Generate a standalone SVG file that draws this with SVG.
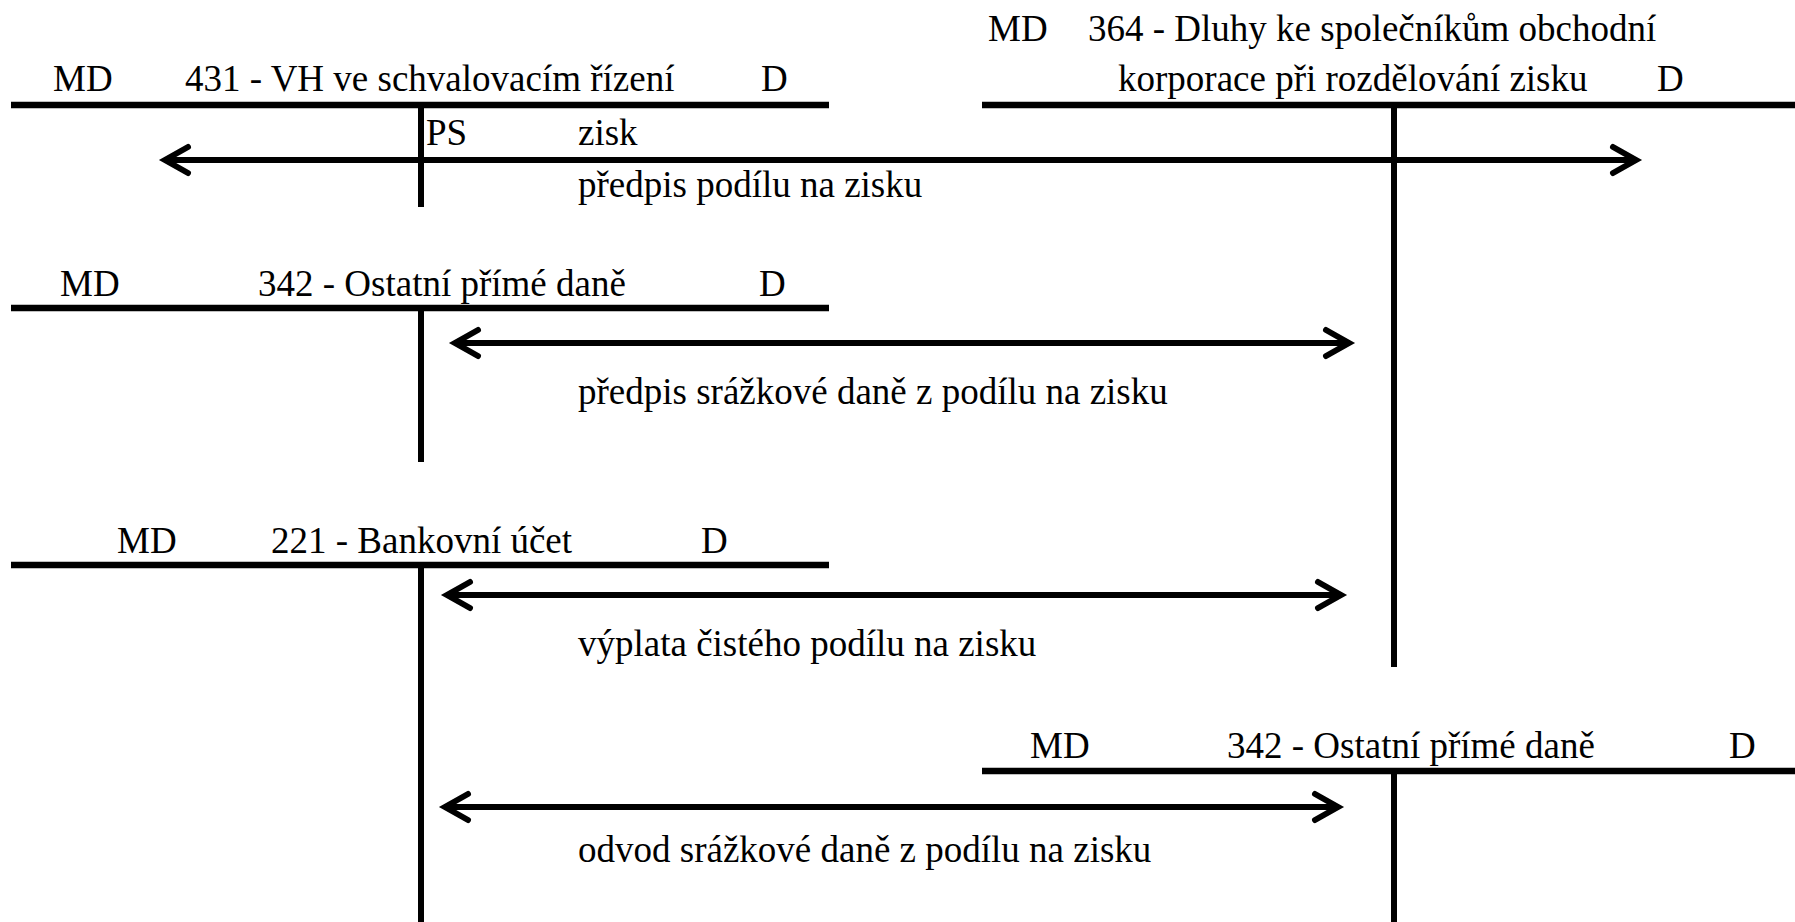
<svg xmlns="http://www.w3.org/2000/svg" width="1795" height="922" viewBox="0 0 1795 922">
<style>
text{font-family:'Liberation Serif','Times New Roman','DejaVu Serif',serif;font-size:37px;fill:#000}
.h{stroke:#000;stroke-width:6.5;fill:none}
.v{stroke:#000;stroke-width:6;fill:none}
.a{stroke:#000;stroke-width:6;fill:none}
.hd{stroke:#000;stroke-width:6;fill:none;stroke-linecap:round;stroke-linejoin:miter}
</style>
<rect width="1795" height="922" fill="#fff"/>
<g font-family="Liberation Serif, serif">
<g id="acc431">
<line class="h" x1="11" y1="105" x2="829" y2="105"/>
<line class="v" x1="421" y1="105" x2="421" y2="207"/>
<text x="53" y="91">MD</text>
<text x="185" y="91">431 - VH ve schvalovacím řízení</text>
<text x="761" y="91">D</text>
<text x="426" y="145">PS</text>
<text x="578" y="145">zisk</text>
</g>
<g id="acc364">
<line class="h" x1="982" y1="105" x2="1795" y2="105"/>
<line class="v" x1="1394" y1="105" x2="1394" y2="667"/>
<text x="988" y="41">MD</text>
<text x="1088" y="41">364 - Dluhy ke společníkům obchodní</text>
<text x="1118" y="91">korporace při rozdělování zisku</text>
<text x="1657" y="91">D</text>
</g>
<g id="acc342a">
<line class="h" x1="11" y1="308" x2="829" y2="308"/>
<line class="v" x1="421" y1="308" x2="421" y2="462"/>
<text x="60" y="296">MD</text>
<text x="258" y="296">342 - Ostatní přímé daně</text>
<text x="759" y="296">D</text>
</g>
<g id="acc221">
<line class="h" x1="11" y1="565" x2="829" y2="565"/>
<line class="v" x1="421" y1="565" x2="421" y2="922"/>
<text x="117" y="553">MD</text>
<text x="271" y="553">221 - Bankovní účet</text>
<text x="701" y="553">D</text>
</g>
<g id="acc342b">
<line class="h" x1="982" y1="771" x2="1795" y2="771"/>
<line class="v" x1="1394" y1="771" x2="1394" y2="922"/>
<text x="1030" y="758">MD</text>
<text x="1227" y="758">342 - Ostatní přímé daně</text>
<text x="1729" y="758">D</text>
</g>
<g id="connectors">
<line class="a" x1="166" y1="160" x2="1635" y2="160"/>
<polyline class="hd" points="188,147 165,160 188,173"/>
<polyline class="hd" points="1613,147 1636,160 1613,173"/>
<text x="578" y="197">předpis podílu na zisku</text>

<line class="a" x1="456" y1="343" x2="1348" y2="343"/>
<polyline class="hd" points="478,330 455,343 478,356"/>
<polyline class="hd" points="1326,330 1349,343 1326,356"/>
<text x="578" y="404">předpis srážkové daně z podílu na zisku</text>

<line class="a" x1="448" y1="595" x2="1340" y2="595"/>
<polyline class="hd" points="470,582 447,595 470,608"/>
<polyline class="hd" points="1318,582 1341,595 1318,608"/>
<text x="578" y="656">výplata čistého podílu na zisku</text>

<line class="a" x1="446" y1="807" x2="1337" y2="807"/>
<polyline class="hd" points="468,794 445,807 468,820"/>
<polyline class="hd" points="1315,794 1338,807 1315,820"/>
<text x="578" y="862">odvod srážkové daně z podílu na zisku</text>
</g>
</g>
</svg>
